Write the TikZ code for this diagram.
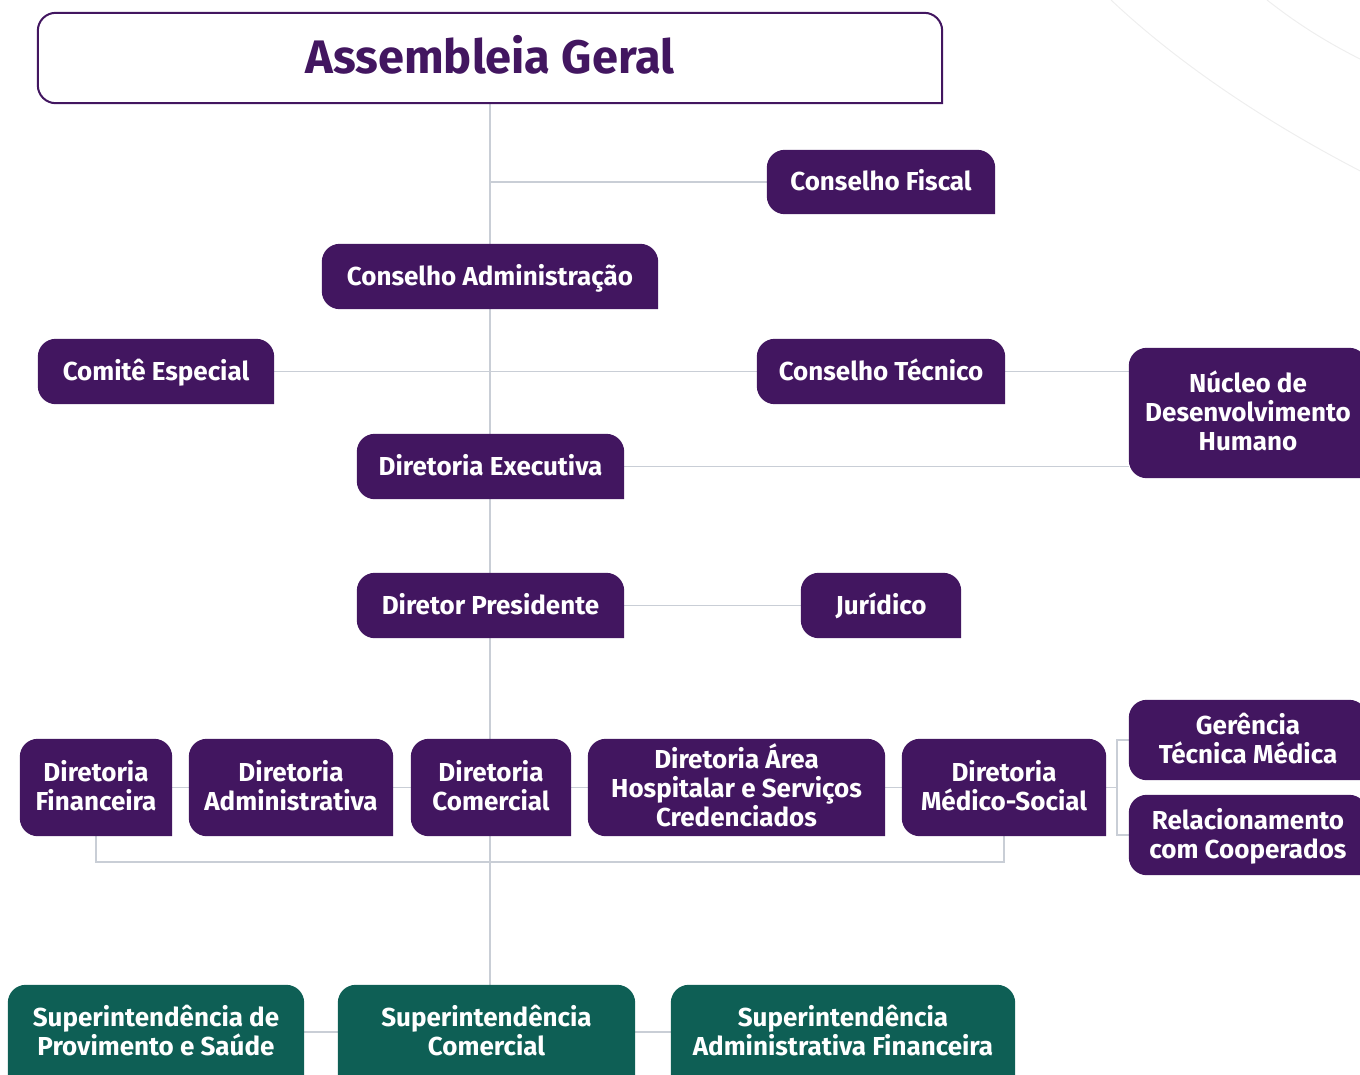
\documentclass[tikz,border=0pt]{standalone}
\usepackage{fontspec}
\setmainfont{Fira Sans}
\usetikzlibrary{backgrounds}
\definecolor{pur}{HTML}{421660}
\definecolor{grn}{HTML}{0E5F55}
\definecolor{lgray}{HTML}{C9CED6}
\definecolor{arcgray}{HTML}{EEEEEE}
\tikzset{
  box/.style={inner sep=0pt, align=center, text=white, text depth=4pt, font=\fontsize{26}{29}\selectfont\bfseries},
  conn/.style={draw=lgray, line width=1.3pt},
}
% box shape: rounded except bottom-right corner
\newcommand\obox[3][18pt]{%
  \path[#3] (#2.south east) -- ([xshift=#1]#2.south west) arc[start angle=270,end angle=180,radius=#1]
   -- ([yshift=-#1]#2.north west) arc[start angle=180,end angle=90,radius=#1]
   -- ([xshift=-#1]#2.north east) arc[start angle=90,end angle=0,radius=#1] -- cycle;}
% top-rounded box extended below the page
\newcommand\tbox[2]{%
  \path[#2] ([yshift=-40pt]#1.south east) -- ([yshift=-40pt]#1.south west)
   -- ([yshift=-18pt]#1.north west) arc[start angle=180,end angle=90,radius=18pt]
   -- ([xshift=-18pt]#1.north east) arc[start angle=90,end angle=0,radius=18pt] -- cycle;}
\begin{document}
\begin{tikzpicture}[x=1pt,y=-1pt]
\useasboundingbox (0,0) rectangle (1360,1074);
% background arcs
\draw[arcgray, line width=1pt] (1111,0) .. controls (1180,65) and (1270,125) .. (1370,176);
\draw[arcgray, line width=1pt] (1267,0) .. controls (1295,22) and (1325,42) .. (1370,64);

\node[inner sep=0pt, minimum width=904pt, minimum height=90pt, text=pur, text depth=8pt,
      font=\fontsize{47}{50}\selectfont\bfseries] (title) at (490,58) {Assembleia Geral};
\node[box, minimum width=228pt, minimum height=64pt] (fisc) at (881,182) {Conselho Fiscal};
\node[box, minimum width=336pt, minimum height=65pt] (cadm) at (490,276.5) {Conselho Administração};
\node[box, minimum width=236pt, minimum height=65pt] (comite) at (156,371.5) {Comitê Especial};
\node[box, minimum width=248pt, minimum height=65pt] (ctec) at (881,371.5) {Conselho Técnico};
\node[box, minimum width=238pt, minimum height=130pt] (nucleo) at (1248,413) {Núcleo de\\Desenvolvimento\\Humano};
\node[box, minimum width=267pt, minimum height=65pt] (dexec) at (490.5,466.5) {Diretoria Executiva};
\node[box, minimum width=267pt, minimum height=65pt] (dpres) at (490.5,605.5) {Diretor Presidente};
\node[box, minimum width=160pt, minimum height=65pt] (jur) at (881,605.5) {Jurídico};
\node[box, minimum width=152pt, minimum height=97pt] (dfin) at (96,787.5) {Diretoria\\Financeira};
\node[box, minimum width=204pt, minimum height=97pt] (dadm) at (291,787.5) {Diretoria\\Administrativa};
\node[box, minimum width=160pt, minimum height=97pt] (dcom) at (491,787.5) {Diretoria\\Comercial};
\node[box, minimum width=297pt, minimum height=97pt] (dhos) at (736.5,787.5) {Diretoria Área\\Hospitalar e Serviços\\Credenciados};
\node[box, minimum width=204pt, minimum height=97pt] (dmed) at (1004,787.5) {Diretoria\\Médico-Social};
\node[box, minimum width=238pt, minimum height=80pt] (ger) at (1248,740) {Gerência\\Técnica Médica};
\node[box, minimum width=238pt, minimum height=80pt] (rel) at (1248,835) {Relacionamento\\com Cooperados};
\node[box, minimum width=296pt, minimum height=94pt] (sprov) at (156,1032) {Superintendência de\\Provimento e Saúde};
\node[box, minimum width=297pt, minimum height=94pt] (scom) at (486.5,1032) {Superintendência\\Comercial};
\node[box, minimum width=344pt, minimum height=94pt] (sadm) at (843,1032) {Superintendência\\Administrativa Financeira};
\coordinate (bk) at (1117,787.5);
\coordinate (bb) at (490,862);

\begin{scope}[on background layer]
  \draw[conn] (title.south) -- (title.south |- scom.north);
  \draw[conn] (fisc.west) -- (fisc.west -| title.south);
  \draw[conn] (comite.east) -- (ctec.west);
  \draw[conn] (ctec.east) -- (ctec.east -| nucleo.west);
  \draw[conn] (dexec.east) -- (dexec.east -| nucleo.west);
  \draw[conn] (dpres.east) -- (jur.west);
  \draw[conn] (dfin.east) -- (dmed.west);
  \draw[conn] (dmed.east) -- (bk);
  \draw[conn] (ger.west) -| (bk) |- (rel.west);
  \draw[conn] (dfin.south) |- (bb) -| (dmed.south);
  \draw[conn] (sprov.east) -- (scom.west);
  \draw[conn] (scom.east) -- (sadm.west);
  \obox{title}{fill=white, draw=pur, line width=2pt}
  \foreach \n in {fisc,cadm,comite,ctec,nucleo,dexec,dpres,jur,dfin,dadm,dcom,dhos,dmed,ger,rel}{\obox{\n}{fill=pur}}
  \foreach \n in {sprov,scom,sadm}{\tbox{\n}{fill=grn}}
\end{scope}
\end{tikzpicture}
\end{document}
